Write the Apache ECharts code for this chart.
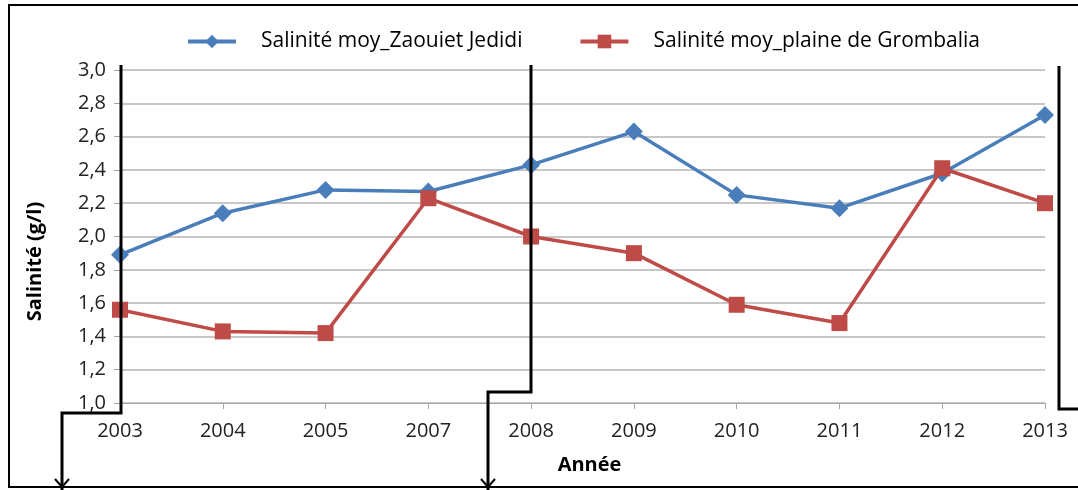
<!DOCTYPE html>
<html>
<head>
<meta charset="utf-8">
<script src="https://cdn.jsdelivr.net/npm/echarts@6/dist/echarts.min.js"></script>
<style>
  html, body { margin: 0; padding: 0; background: #fff; }
  #chart { width: 1078px; height: 490px; }
</style>
</head>
<body>
<div id="chart"></div>
<script>
  // données
  const annees = ["2003", "2004", "2005", "2007", "2008", "2009", "2010", "2011", "2012", "2013"];
  const zaouiet = [1.89, 2.14, 2.28, 2.27, 2.43, 2.63, 2.25, 2.17, 2.38, 2.73];
  const grombalia = [1.56, 1.43, 1.42, 2.23, 2.00, 1.90, 1.59, 1.48, 2.41, 2.20];
  const nomZaouiet = "Salinité moy_Zaouiet Jedidi";
  const nomGrombalia = "Salinité moy_plaine de Grombalia";

  const police = "'Open Sans', sans-serif";
  const bleu = "#4a7ebb";
  const rouge = "#be4b48";

  let myChart = echarts.init(document.getElementById("chart"));

  // traits noirs du document (connecteurs)
  const trait = { stroke: "#000", lineWidth: 3, fill: null };
  const connecteurs = [
    [[121, 65], [121, 413], [62, 413], [62, 490]],
    [[531, 65], [531, 392], [488, 392], [488, 490]],
    [[1059, 66], [1059, 409], [1078, 409]],
  ].map(pts => ({ type: "polyline", shape: { points: pts }, style: trait, z: 100 }));
  const fleches = [62, 488].map(x => ({
    type: "polyline",
    shape: { points: [[x - 7, 479], [x, 487], [x + 7, 479]] },
    style: { stroke: "#000", lineWidth: 2, fill: null },
    z: 100,
  }));

  let option = {
    backgroundColor: "#fff",
    animation: false,
    graphic: [
      {
        type: "rect",
        shape: { x: 9, y: 5, width: 1080, height: 482 },
        style: { stroke: "#000", lineWidth: 2, fill: null },
        z: 99,
      },
      ...connecteurs,
      ...fleches,
    ],
    legend: {
      top: 26,
      left: 181,
      itemWidth: 48,
      itemHeight: 17,
      itemGap: 56,
      lineStyle: { width: 4 },
      textStyle: {
        fontFamily: police,
        fontSize: 21,
        color: "#000",
        padding: [0, 0, 0, 20],
      },
      data: [nomZaouiet, nomGrombalia],
    },
    grid: {
      left: 120,
      right: 33,
      top: 70,
      bottom: 87,
    },
    xAxis: {
      type: "category",
      data: annees,
      boundaryGap: false,
      name: "Année",
      nameLocation: "middle",
      nameGap: 52,
      nameTextStyle: { fontFamily: police, fontSize: 20, fontWeight: "bold", color: "#000", padding: [0, 0, 0, 14] },
      axisLine: { lineStyle: { color: "#a6a6a6", width: 1 } },
      axisTick: { show: true, alignWithLabel: true, length: 6, lineStyle: { color: "#a6a6a6" } },
      axisLabel: { fontFamily: police, fontSize: 20, color: "#222", margin: 18 },
      splitLine: { show: false },
    },
    yAxis: {
      type: "value",
      min: 1.0,
      max: 3.0,
      interval: 0.2,
      name: "Salinité (g/l)",
      nameLocation: "middle",
      nameGap: 75,
      nameRotate: 90,
      nameTextStyle: {
        fontFamily: police,
        fontSize: 20,
        fontWeight: "bold",
        color: "#000",
        padding: [0, 50, 0, 0],
      },
      axisLine: { show: true, lineStyle: { color: "#a6a6a6" } },
      axisTick: { show: true, length: 6, lineStyle: { color: "#a6a6a6" } },
      axisLabel: {
        fontFamily: police,
        fontSize: 20,
        color: "#222",
        margin: 14,
        formatter: v => v.toFixed(1).replace(".", ","),
      },
      splitLine: { lineStyle: { color: "#b4b4b4", width: 1.5 } },
    },
    series: [
      {
        name: nomZaouiet,
        type: "line",
        data: zaouiet,
        symbol: "diamond",
        symbolSize: 18,
        lineStyle: { color: bleu, width: 3.5 },
        itemStyle: { color: bleu },
        z: 3,
      },
      {
        name: nomGrombalia,
        type: "line",
        data: grombalia,
        symbol: "rect",
        symbolSize: 16,
        lineStyle: { color: rouge, width: 3.5 },
        itemStyle: { color: rouge },
        z: 4,
      },
    ],
  };
  myChart.setOption(option);
</script>
</body>
</html>
